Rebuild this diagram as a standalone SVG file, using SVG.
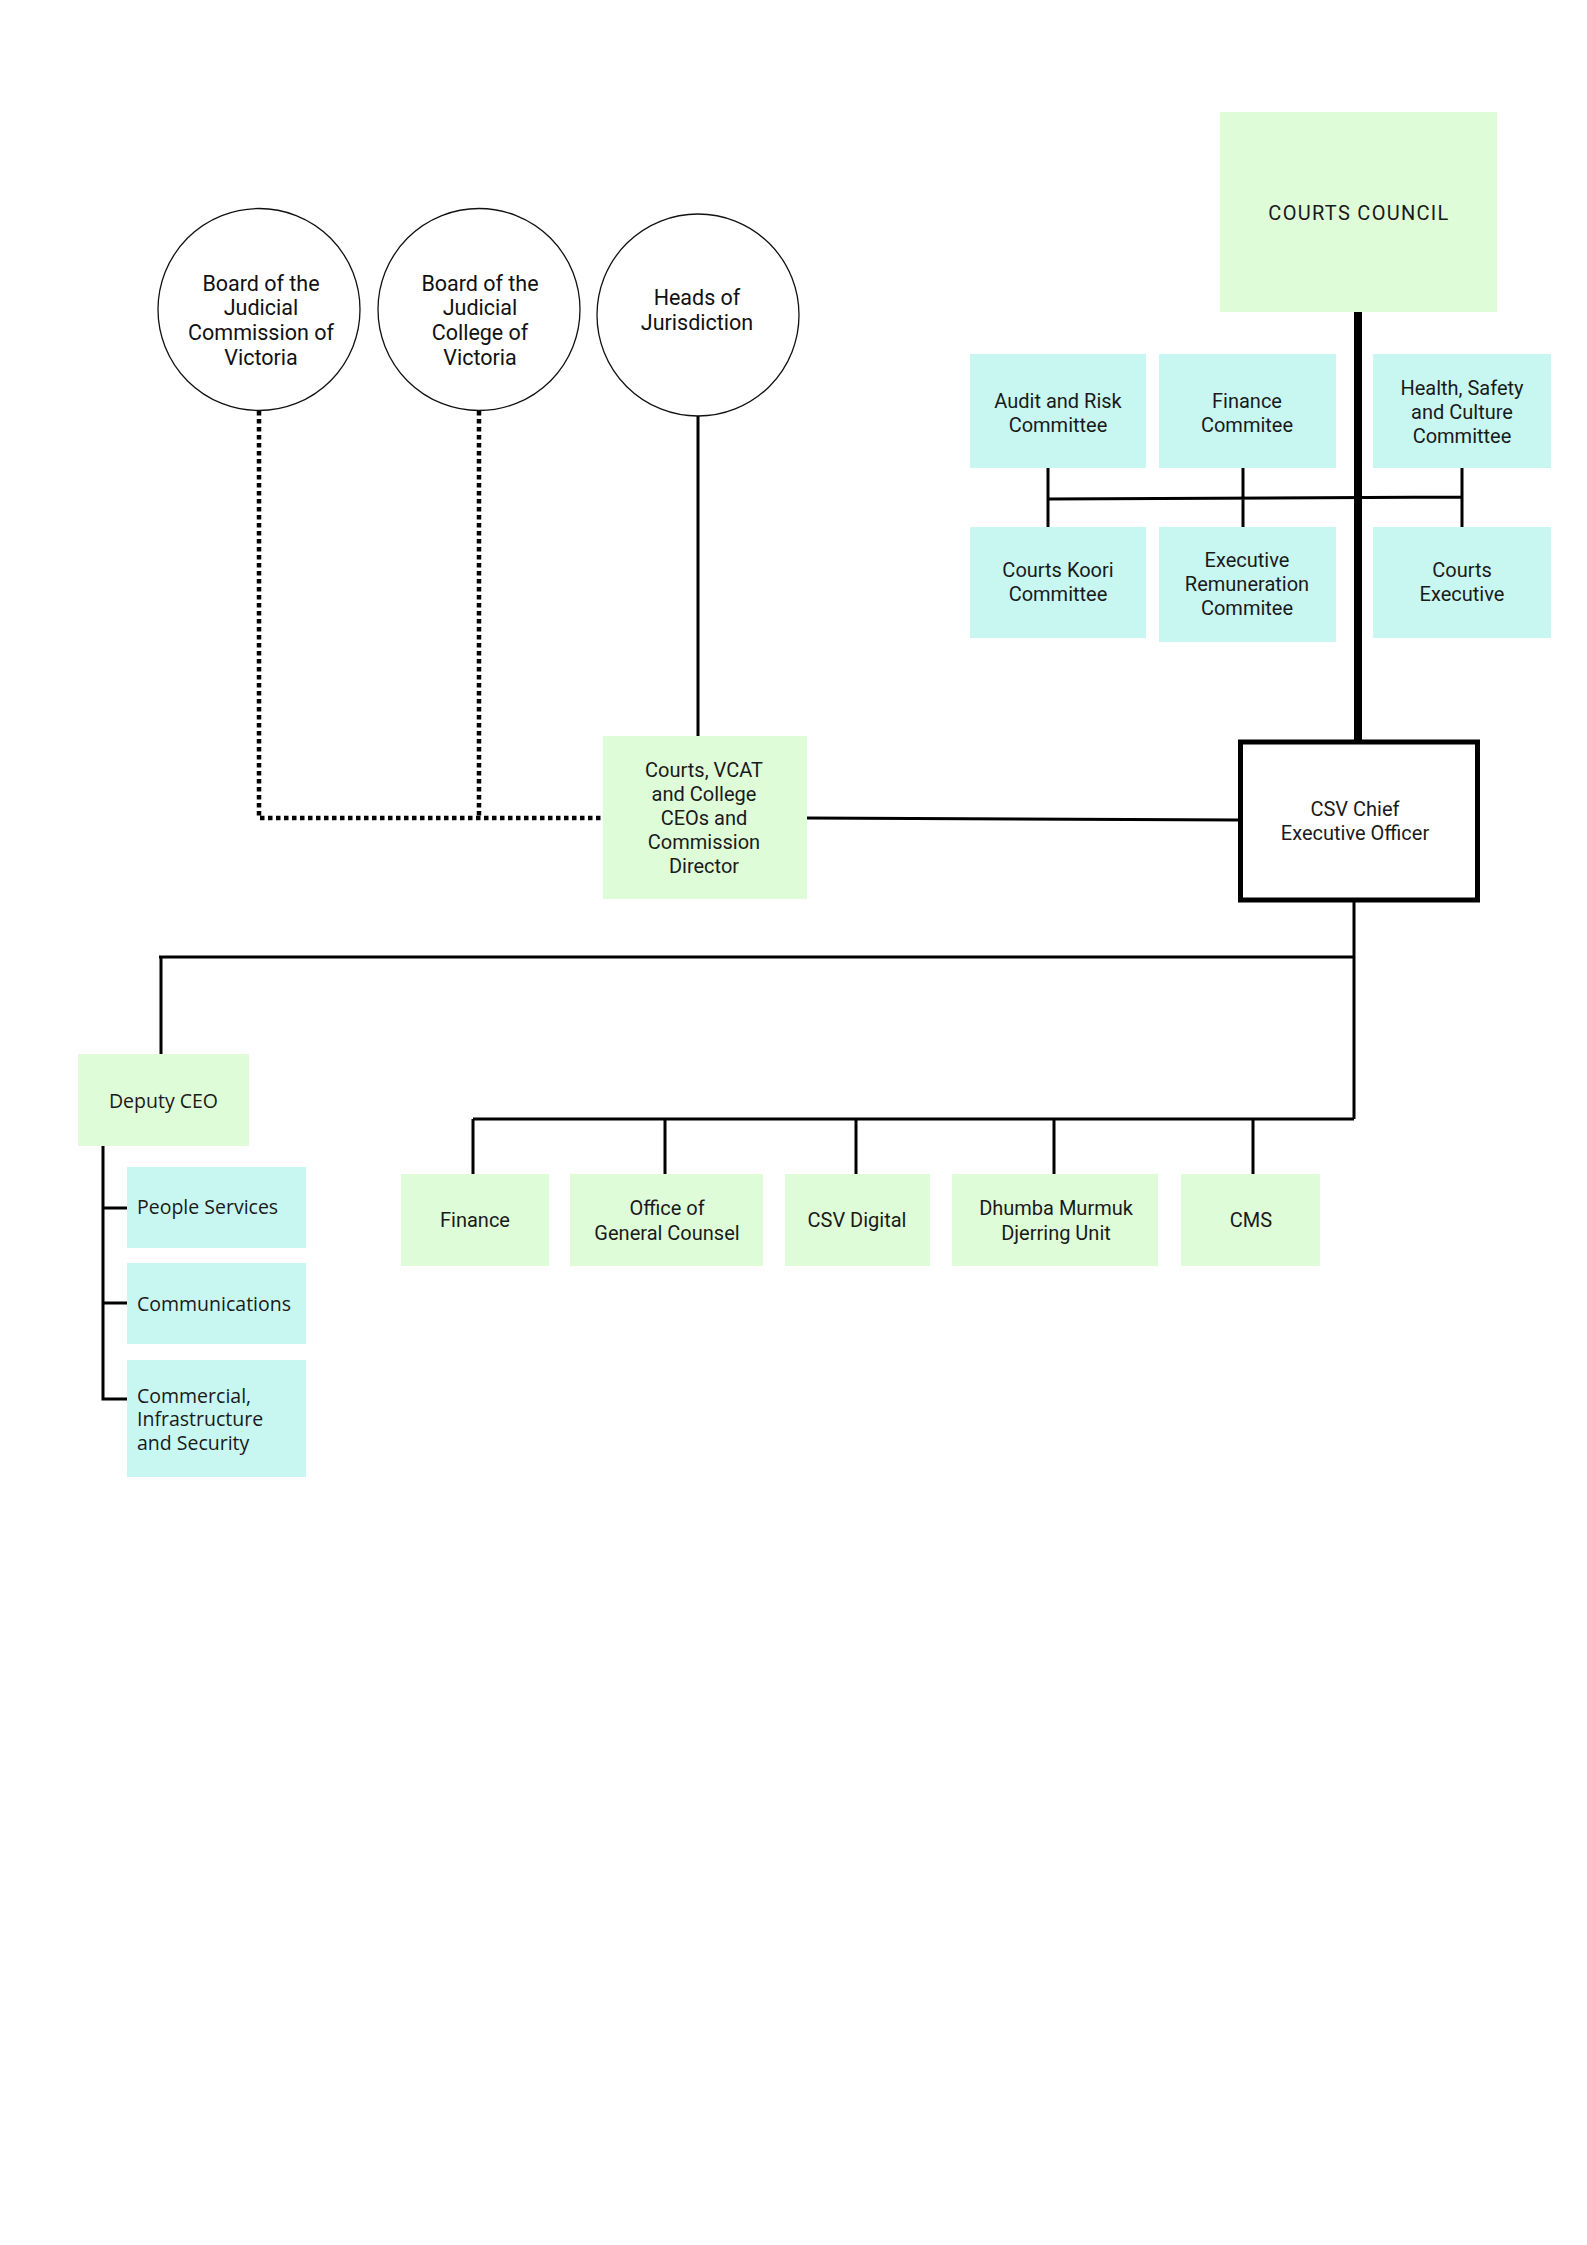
<svg xmlns="http://www.w3.org/2000/svg" width="1587" height="2245" viewBox="0 0 1587 2245">
<style>
.g{fill:#dffcd9}
.c{fill:#c8f7f2}
.circ{fill:#fff;stroke:#111;stroke-width:1.3}
.t{font-family:Roboto,"Liberation Sans",sans-serif;font-size:20px;fill:#1a1a1a;text-anchor:middle}
.tc{font-family:Roboto,"Liberation Sans",sans-serif;font-size:21.5px;fill:#111;text-anchor:middle}
.tm{font-family:"Open Sans","DejaVu Sans",sans-serif;font-size:19.5px;fill:#1a1a1a}
.ln{stroke:#000;stroke-width:3;fill:none}
.dot{stroke:#000;stroke-width:4.5;fill:none;stroke-dasharray:4.5 3.5}
</style>
<rect width="1587" height="2245" fill="#fff"/>
<g id="connectors">
<path class="dot" d="M259,411 V818 H603"/>
<path class="dot" d="M479,411 V818"/>
<line class="ln" x1="698" y1="416" x2="698" y2="736" stroke-width="2.5"/>
<line x1="1358" y1="312" x2="1358" y2="740" stroke="#000" stroke-width="8"/>
<path class="ln" d="M1048,468 V527 M1243,468 V527 M1462,468 V527 M1048,499 L1462,497"/>
<line class="ln" x1="806" y1="818" x2="1240" y2="820"/>
<path class="ln" d="M1354,902 V1119 M159,957 H1354 M161,957 V1054"/>
<path class="ln" d="M473,1119 H1354 M473,1119 V1174 M665,1119 V1174 M856,1119 V1174 M1054,1119 V1174 M1253,1119 V1174"/>
<path class="ln" d="M103,1146 V1399 H127 M103,1208 H127 M103,1303 H127"/>
</g>
<g id="n-board-commission"><circle class="circ" cx="259" cy="309.5" r="101"/>
<text class="tc" x="261" y="291">Board of the</text><text class="tc" x="261" y="315">Judicial</text><text class="tc" x="261" y="340">Commission of</text><text class="tc" x="261" y="365">Victoria</text></g>
<g id="n-board-college"><circle class="circ" cx="479" cy="309.5" r="101"/>
<text class="tc" x="480" y="291">Board of the</text><text class="tc" x="480" y="315">Judicial</text><text class="tc" x="480" y="340">College of</text><text class="tc" x="480" y="365">Victoria</text></g>
<g id="n-heads"><circle class="circ" cx="698" cy="315" r="101"/>
<text class="tc" x="697" y="305">Heads of</text><text class="tc" x="697" y="330">Jurisdiction</text></g>
<g id="n-courts-council"><rect class="g" x="1220" y="112" width="277" height="200"/>
<text class="t" x="1359" y="220" letter-spacing="1.3">COURTS COUNCIL</text></g>
<g id="n-audit"><rect class="c" x="970" y="354" width="176" height="114"/>
<text class="t" x="1058" y="408">Audit and Risk</text><text class="t" x="1058" y="432">Committee</text></g>
<g id="n-finance-comm"><rect class="c" x="1159" y="354" width="177" height="114"/>
<text class="t" x="1247" y="408">Finance</text><text class="t" x="1247" y="432">Commitee</text></g>
<g id="n-health"><rect class="c" x="1373" y="354" width="178" height="114"/>
<text class="t" x="1462" y="395">Health, Safety</text><text class="t" x="1462" y="419">and Culture</text><text class="t" x="1462" y="443">Committee</text></g>
<g id="n-koori"><rect class="c" x="970" y="527" width="176" height="111"/>
<text class="t" x="1058" y="577">Courts Koori</text><text class="t" x="1058" y="601">Committee</text></g>
<g id="n-remuneration"><rect class="c" x="1159" y="527" width="177" height="115"/>
<text class="t" x="1247" y="567">Executive</text><text class="t" x="1247" y="591">Remuneration</text><text class="t" x="1247" y="615">Commitee</text></g>
<g id="n-courts-exec"><rect class="c" x="1373" y="527" width="178" height="111"/>
<text class="t" x="1462" y="577">Courts</text><text class="t" x="1462" y="601">Executive</text></g>
<g id="n-vcat"><rect class="g" x="603" y="736" width="204" height="163"/>
<text class="t" x="704" y="777">Courts, VCAT</text><text class="t" x="704" y="801">and College</text><text class="t" x="704" y="825">CEOs and</text><text class="t" x="704" y="849">Commission</text><text class="t" x="704" y="873">Director</text></g>
<g id="n-csv-ceo"><rect x="1240.5" y="742" width="237" height="158" fill="#fff" stroke="#000" stroke-width="5"/>
<text class="t" x="1355" y="816">CSV Chief</text><text class="t" x="1355" y="840">Executive Officer</text></g>
<g id="n-deputy"><rect class="g" x="78" y="1054" width="171" height="92"/>
<text class="tm" x="163.5" y="1108" text-anchor="middle">Deputy CEO</text></g>
<g id="n-people"><rect class="c" x="127" y="1167" width="179" height="81"/>
<text class="tm" x="137" y="1214">People Services</text></g>
<g id="n-comms"><rect class="c" x="127" y="1263" width="179" height="81"/>
<text class="tm" x="137" y="1311">Communications</text></g>
<g id="n-commercial"><rect class="c" x="127" y="1360" width="179" height="117"/>
<text class="tm" x="137" y="1403">Commercial,</text><text class="tm" x="137" y="1426">Infrastructure</text><text class="tm" x="137" y="1450">and Security</text></g>
<g id="n-finance"><rect class="g" x="401" y="1174" width="148" height="92"/>
<text class="t" x="475" y="1227">Finance</text></g>
<g id="n-ogc"><rect class="g" x="570" y="1174" width="193" height="92"/>
<text class="t" x="667" y="1215">Office of</text><text class="t" x="667" y="1240">General Counsel</text></g>
<g id="n-digital"><rect class="g" x="785" y="1174" width="145" height="92"/>
<text class="t" x="857" y="1227">CSV Digital</text></g>
<g id="n-dhumba"><rect class="g" x="952" y="1174" width="206" height="92"/>
<text class="t" x="1056" y="1215">Dhumba Murmuk</text><text class="t" x="1056" y="1240">Djerring Unit</text></g>
<g id="n-cms"><rect class="g" x="1181" y="1174" width="139" height="92"/>
<text class="t" x="1251" y="1227">CMS</text></g>
</svg>
